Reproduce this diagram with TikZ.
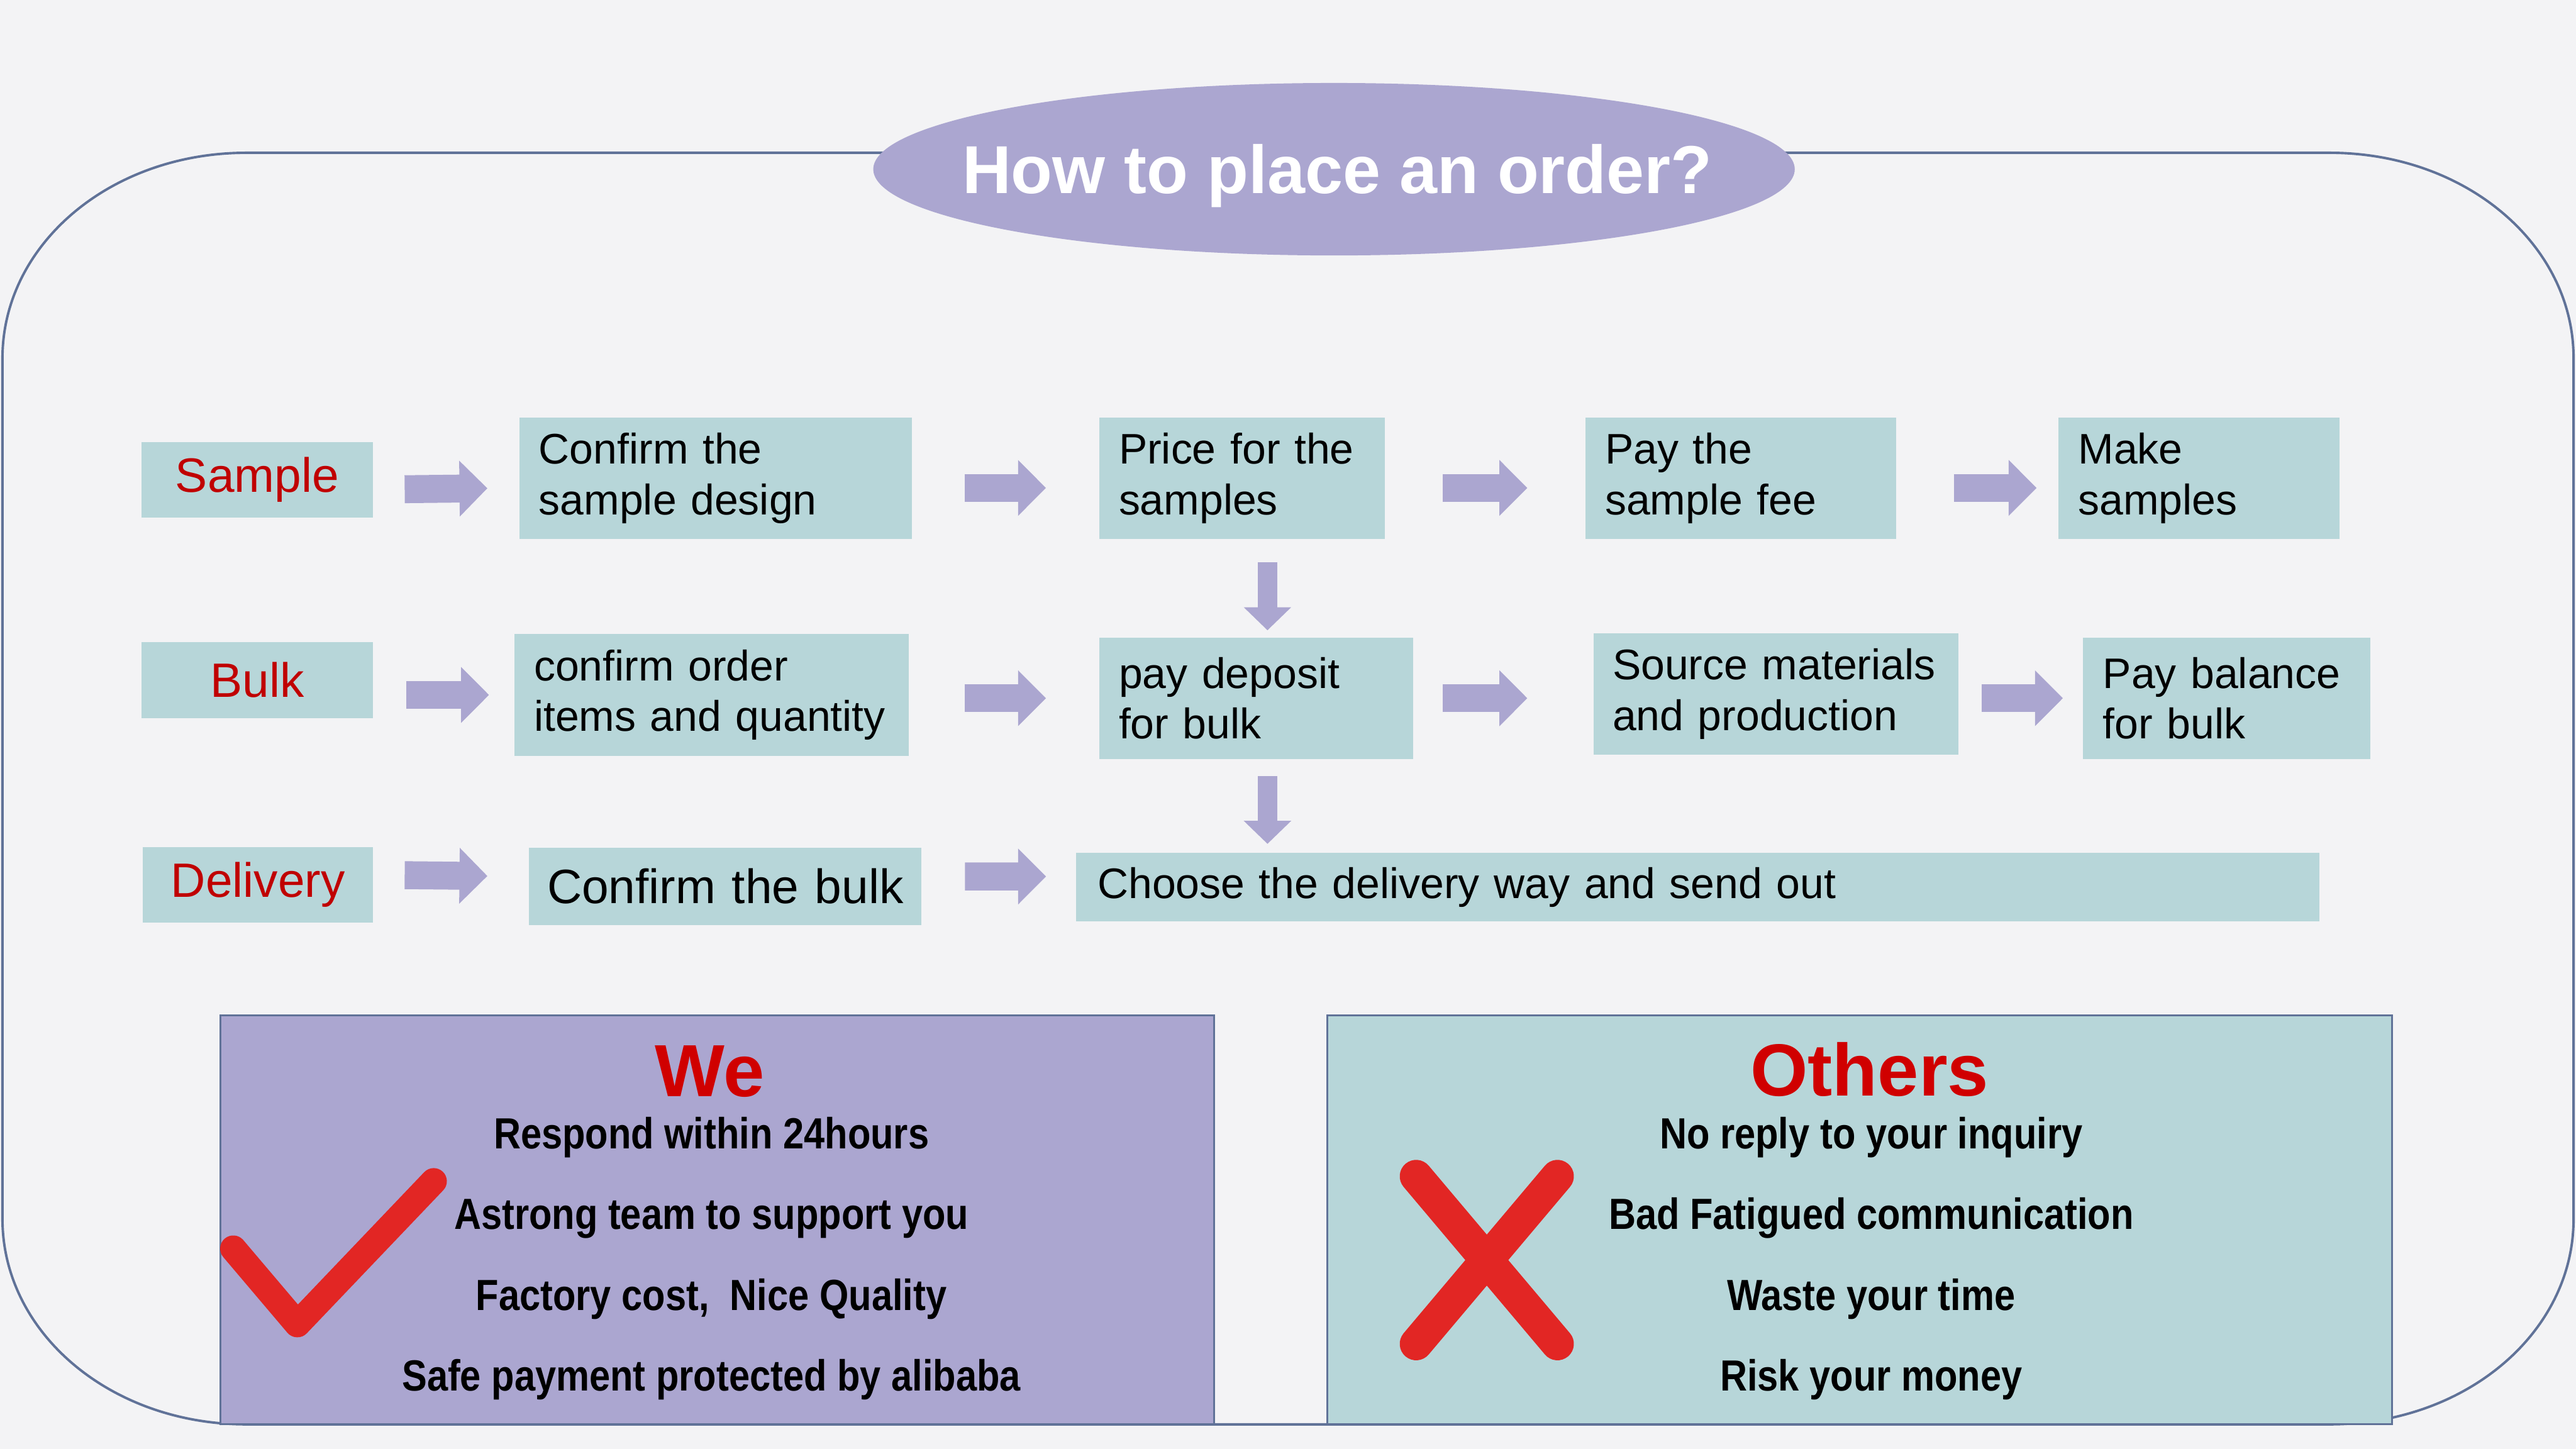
\documentclass[tikz,border=0pt]{standalone}
\usepackage{fontspec}
\setmainfont{Liberation Sans}
\newfontfamily\narrowsans[FakeStretch=0.86]{Liberation Sans}
\usetikzlibrary{arrows.meta,shapes.geometric,calc}

\definecolor{paper}{RGB}{243,243,245}
\definecolor{stepteal}{RGB}{183,214,217}
\definecolor{lilac}{RGB}{171,166,208}
\definecolor{kindred}{RGB}{192,0,0}
\definecolor{headred}{RGB}{208,0,0}
\definecolor{markred}{RGB}{226,38,36}
\definecolor{rim}{RGB}{96,114,152}

\begin{document}
\begin{tikzpicture}[
    x=0.02cm, y=-0.02cm,
    stepbox/.style={fill=stepteal, align=left, inner xsep=0.24cm, inner ysep=0pt,
                    minimum height=1.48cm, font=\fontsize{14.8}{17.6}\selectfont},
    kind/.style={fill=stepteal, inner sep=0pt, minimum width=2.82cm, minimum height=0.92cm,
                 text=kindred, font=\fontsize{16.7}{20}\selectfont},
    harr/.style={draw=lilac, line width=0.34cm, -{Triangle[width=0.66cm,length=0.34cm]}},
    varr/.style={draw=lilac, line width=0.24cm, -{Triangle[width=0.56cm,length=0.28cm]}},
    panel/.style={draw=rim, line width=0.7pt, inner sep=0pt, minimum height=4.98cm},
    head/.style={text=headred, font=\fontsize{25.6}{30}\selectfont\bfseries},
    points/.style={align=center, font=\narrowsans\fontsize{15.1}{28}\selectfont\bfseries},
    tickline/.style={draw=markred, line width=0.32cm, line cap=round, line join=round},
    crossline/.style={draw=markred, line width=0.4cm, line cap=round}
  ]

  \fill[paper] (0,0) rectangle (1568,882);
  \useasboundingbox (0,0) rectangle (1568,882);

  % ---------- frame and title ---------------------------------------------
  \draw[rim, line width=0.85pt]
    (1.5,218) .. controls (1.5,149) and (67,93) .. (150,93) -- (1418,93)
    .. controls (1501,93) and (1566.5,149) .. (1566.5,218) -- (1566.5,742)
    .. controls (1566.5,811) and (1501,867) .. (1418,867) -- (150,867)
    .. controls (67,867) and (1.5,811) .. (1.5,742) -- cycle;

  % the ellipse is sized on its own, the title text sits on top of it
  \node[ellipse, fill=lilac, inner sep=0pt, minimum width=11.22cm, minimum height=2.1cm]
        (badge) at (812,103) {};
  \node[text=white, font=\fontsize{23.5}{28}\selectfont\bfseries] (title)
        at ($(badge)+(2,4)$) {How to place an order?};

  % ---------- sample row ---------------------------------------------------
  \node[kind] (sample) at (156.5,292) {Sample};
  \node[stepbox, text width=4.30cm] (design) at (435.5,291) {Confirm the\\sample design};
  \node[stepbox, text width=3.00cm] (price)  at (756,291)   {Price for the\\samples};
  \node[stepbox, text width=3.30cm] (pay)    at (1059.5,291) {Pay the\\sample fee};
  \node[stepbox, text width=2.94cm] (make)   at (1338.5,291) {Make\\samples};

  % ---------- bulk row -----------------------------------------------------
  \node[kind] (bulk) at (156.5,414) {Bulk};
  \node[stepbox, text width=4.32cm] (order)   at (433,423)    {confirm order\\items and quantity};
  \node[stepbox, text width=3.34cm] (deposit) at (764.5,425)  {pay deposit\\for bulk};
  \node[stepbox, text width=3.98cm, inner xsep=0.23cm] (source) at (1081,422.5) {Source materials\\and production};
  \node[stepbox, text width=3.02cm] (balance) at (1355.5,425) {Pay balance\\for bulk};

  % ---------- delivery row -------------------------------------------------
  \node[kind, minimum width=2.80cm] (delivery) at (157,538.5) {Delivery};
  \node[stepbox, align=center, text width=4.50cm, inner xsep=0.14cm, minimum height=0.94cm,
        font=\fontsize{16.7}{20}\selectfont] (cbulk) at (441.5,539.5) {Confirm the bulk};
  \node[stepbox, text width=14.62cm, inner xsep=0.26cm, minimum height=0.84cm] (choose)
        at (1033.5,540) {Choose the delivery way and send out};

  % ---------- flow ---------------------------------------------------------
  \draw[harr, shorten <=0.38cm, shorten >=0.38cm] ([yshift=-0.12cm]sample.east) -- ([yshift=-0.12cm]design.west);
  \draw[harr, shorten <=0.64cm, shorten >=0.64cm] ([yshift=-0.12cm]design.east) -- ([yshift=-0.12cm]price.west);
  \draw[harr, shorten <=0.70cm, shorten >=0.70cm] ([yshift=-0.12cm]price.east) -- ([yshift=-0.12cm]pay.west);
  \draw[harr, shorten <=0.70cm, shorten >=0.26cm] ([yshift=-0.12cm]pay.east) -- ([yshift=-0.12cm]make.west);

  \draw[harr, shorten <=0.40cm, shorten >=0.30cm] (order.west -| bulk.east) -- (order.west);
  \draw[harr, shorten <=0.68cm, shorten >=0.64cm] (deposit.west -| order.east) -- (deposit.west);
  \draw[harr, shorten <=0.36cm, shorten >=0.80cm] (deposit.east) -- (deposit.east -| source.west);
  \draw[harr, shorten <=0.28cm, shorten >=0.24cm] (balance.west -| source.east) -- (balance.west);

  \draw[harr, shorten <=0.38cm, shorten >=0.50cm] ([yshift=0.12cm]delivery.east) -- ([yshift=0.12cm]cbulk.west);
  \draw[harr, shorten <=0.52cm, shorten >=0.36cm] ([yshift=0.12cm]cbulk.east) -- ([yshift=0.13cm]choose.west);

  \coordinate (up)   at ($(price.south)+(15.5,0)$);
  \coordinate (down) at ($(deposit.south)+(7,0)$);
  \draw[varr, shorten <=0.28cm, shorten >=0.08cm] (up) -- (up |- deposit.north);
  \draw[varr, shorten <=0.20cm, shorten >=0.10cm] (down) -- (down |- choose.north);

  % ---------- comparison ---------------------------------------------------
  \node[panel, fill=lilac, minimum width=12.10cm]    (wePanel)     at (436.5,742.5) {};
  \node[panel, fill=stepteal, minimum width=12.96cm] (othersPanel) at (1132,742.5) {};

  \node[head] (weHead)     at (432,652)  {We};
  \node[head] (othersHead) at (1138,651) {Others};

  \node[points] (wePoints) at (433,766)
        {Respond within 24hours\\Astrong team to support you\\Factory cost,\ \ Nice Quality\\Safe payment protected by alibaba};
  \node[points] (othersPoints) at (1139,766)
        {No reply to your inquiry\\Bad Fatigued communication\\Waste your time\\Risk your money};

  \draw[tickline] (142,760) -- (181,806) -- (264,719);
  \draw[crossline] (862,716) -- (948,818);
  \draw[crossline] (948,716) -- (862,818);

\end{tikzpicture}
\end{document}
